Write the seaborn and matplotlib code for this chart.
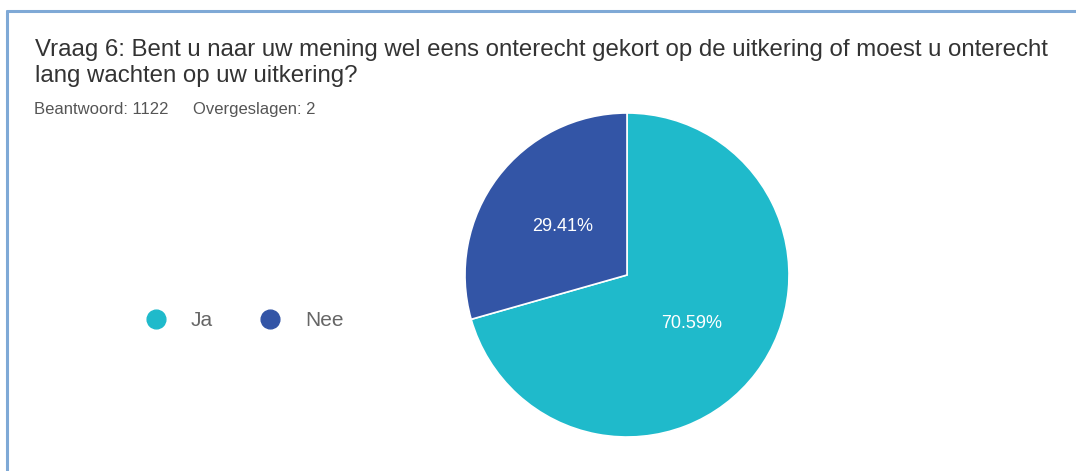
import matplotlib
matplotlib.use("Agg")
import matplotlib.pyplot as plt
from matplotlib.lines import Line2D
import seaborn as sns

categories = ["Ja", "Nee"]
values = [70.59, 29.41]
colors = ["#1FBACB", "#3355A6"]
title_lines = ["Vraag 6: Bent u naar uw mening wel eens onterecht gekort op de uitkering of moest u onterecht",
               "lang wachten op uw uitkering?"]
answered = "Beantwoord: 1122"
skipped = "Overgeslagen: 2"

sns.set_theme(style="white")
plt.rcParams["font.family"] = ["Liberation Sans", "DejaVu Sans"]

W, H = 1076, 471
fig = plt.figure(figsize=(W / 100, H / 100), dpi=100)
fig.patch.set_facecolor("white")

cx, cy, r = 627, 275, 162
ax = fig.add_axes([(cx - r) / W, (H - cy - r) / H, 2 * r / W, 2 * r / H])
wedges, texts, autotexts = ax.pie(
    values, colors=colors, startangle=90, counterclock=False,
    autopct=lambda p: f"{p:.2f}%", pctdistance=0.5,
    wedgeprops=dict(edgecolor="white", linewidth=1.2),
    textprops=dict(color="white", fontsize=13),
)
ax.set_xlim(-1, 1)
ax.set_ylim(-1, 1)
ax.set_aspect("equal")
ax.axis("off")

for line, yb in zip(title_lines, [56, 82]):
    fig.text(35 / W, 1 - yb / H, line, fontsize=17.3, color="#333333",
             va="baseline", ha="left")
fig.text(34 / W, 1 - 114 / H, answered, fontsize=12, color="#555555",
         va="baseline", ha="left")
fig.text(193 / W, 1 - 114 / H, skipped, fontsize=12, color="#555555",
         va="baseline", ha="left")

# legend
leg_y = 319
for cat, col, mx, tx in zip(categories, colors, [155.5, 270], [191, 305]):
    fig.add_artist(Line2D([mx / W], [1 - leg_y / H], marker="o", linestyle="",
                          markersize=13.5, markerfacecolor=col, markeredgecolor=col,
                          transform=fig.transFigure))
    fig.text(tx / W, 1 - (leg_y + 1) / H, cat, fontsize=15, color="#666666",
             va="center", ha="left")

border = "#7FA9D6"
fig.add_artist(Line2D([7 / W, 7 / W], [0, 1 - 11 / H], color=border, lw=2.2,
                      transform=fig.transFigure))
fig.add_artist(Line2D([7 / W, 1], [1 - 11 / H, 1 - 11 / H], color=border, lw=2.2,
                      transform=fig.transFigure))

fig.savefig("out.png", dpi=100)
